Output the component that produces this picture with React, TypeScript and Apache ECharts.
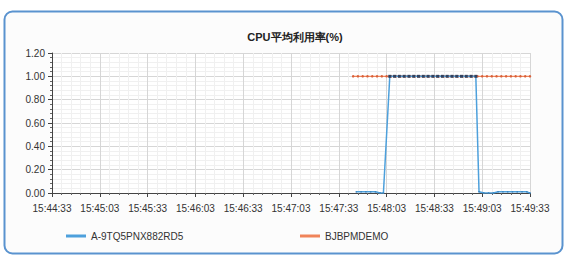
import React, { useEffect, useRef } from "react";
import * as echarts from "echarts";

const title = "CPU平均利用率(%)";
const startTime = "15:44:33";
const tickLabels = ["15:44:33", "15:45:03", "15:45:33", "15:46:03", "15:46:33", "15:47:03", "15:47:33", "15:48:03", "15:48:33", "15:49:03", "15:49:33"];
const yTicks = [0, 0.2, 0.4, 0.6, 0.8, 1.0, 1.2];

const seriesAName = "A-9TQ5PNX882RD5";
const seriesATimes = [
  "15:47:44", "15:47:47", "15:47:50", "15:47:53", "15:47:56", "15:47:59", "15:48:01",
  "15:48:05", "15:48:08", "15:48:11", "15:48:14", "15:48:17", "15:48:20", "15:48:23", "15:48:26", "15:48:29",
  "15:48:32", "15:48:35", "15:48:38", "15:48:41", "15:48:44", "15:48:47", "15:48:50", "15:48:53", "15:48:56", "15:48:59",
  "15:49:01", "15:49:04", "15:49:07", "15:49:10", "15:49:13", "15:49:16", "15:49:19", "15:49:22", "15:49:25", "15:49:28", "15:49:31", "15:49:33",
];
const seriesAValues = [
  0.01, 0.01, 0.01, 0.01, 0.01, 0.00, 0.00,
  1.00, 1.00, 1.00, 1.00, 1.00, 1.00, 1.00, 1.00, 1.00,
  1.00, 1.00, 1.00, 1.00, 1.00, 1.00, 1.00, 1.00, 1.00, 1.00,
  0.01, 0.00, 0.00, 0.00, 0.01, 0.01, 0.01, 0.01, 0.01, 0.01, 0.01, 0.00,
];

const seriesBName = "BJBPMDEMO";
const seriesBTimes = [
  "15:47:42", "15:47:45", "15:47:48", "15:47:51", "15:47:54", "15:47:57", "15:48:00", "15:48:03", "15:48:06", "15:48:09",
  "15:48:12", "15:48:15", "15:48:18", "15:48:21", "15:48:24", "15:48:27", "15:48:30", "15:48:33", "15:48:36", "15:48:39",
  "15:48:42", "15:48:45", "15:48:48", "15:48:51", "15:48:54", "15:48:57", "15:49:00", "15:49:03", "15:49:06", "15:49:09",
  "15:49:12", "15:49:15", "15:49:18", "15:49:21", "15:49:24", "15:49:27", "15:49:30", "15:49:33",
];
const seriesBValues = [
  1.00, 1.00, 1.00, 1.00, 1.00, 1.00, 1.00, 1.00, 1.00, 1.00,
  1.00, 1.00, 1.00, 1.00, 1.00, 1.00, 1.00, 1.00, 1.00, 1.00,
  1.00, 1.00, 1.00, 1.00, 1.00, 1.00, 1.00, 1.00, 1.00, 1.00,
  1.00, 1.00, 1.00, 1.00, 1.00, 1.00, 1.00, 1.00,
];

const BLUE = "#4da0dc";
const ORANGE = "#f0845a";

const toSec = (t: string) => {
  const [h, m, s] = t.split(":").map(Number);
  return h * 3600 + m * 60 + s;
};
const base = toSec(startTime);

export default function App() {
  const ref = useRef<HTMLDivElement>(null);
  useEffect(() => {
    if (!ref.current) return;
    const chart = echarts.init(ref.current, undefined, { renderer: "svg" });
    const font = "Liberation Sans, Arial, sans-serif";
    const dataA = seriesATimes.map((t, i) => ({
      value: [toSec(t) - base, seriesAValues[i]],
      symbolSize: seriesAValues[i] > 0.5 ? 3 : 1.5,
      itemStyle: { color: seriesAValues[i] > 0.5 ? "#34425e" : "#3d86c0" },
    }));
    const dataB = seriesBTimes.map((t, i) => [toSec(t) - base, seriesBValues[i]]);
    chart.setOption({
      animation: false,
      backgroundColor: "#ffffff",
      graphic: [
        {
          type: "rect",
          shape: { x: 4.5, y: 11.5, width: 558, height: 242, r: 8 },
          style: { fill: "#fcfcfc", stroke: "#5a93cf", lineWidth: 2 },
          z: -10,
          silent: true,
        },
      ],
      title: {
        text: title,
        left: 290,
        textAlign: "center",
        top: 26,
        textStyle: { fontSize: 11, fontWeight: "bold", color: "#222", fontFamily: font },
      },
      legend: [
        {
          data: [{ name: seriesAName, itemStyle: { color: BLUE } }],
          left: 61,
          top: 226,
          itemWidth: 20,
          itemHeight: 3,
          itemGap: 5,
          icon: "rect",
          textStyle: { fontSize: 10, color: "#333", fontFamily: font },
        },
        {
          data: [{ name: seriesBName, itemStyle: { color: ORANGE } }],
          left: 295,
          top: 226,
          itemWidth: 20,
          itemHeight: 3,
          icon: "rect",
          textStyle: { fontSize: 10, color: "#333", fontFamily: font },
        },
      ],
      grid: { left: 52, right: 36, top: 53, bottom: 63, containLabel: false, show: true, backgroundColor: "#ffffff", borderWidth: 0 },
      xAxis: {
        type: "value",
        min: 0,
        max: 300,
        interval: 30,
        axisLine: { show: true, lineStyle: { color: "#444" } },
        axisTick: { show: true, length: 4, lineStyle: { color: "#444" } },
        minorTick: { show: true, splitNumber: 5, length: 2, lineStyle: { color: "#666" } },
        splitLine: { show: true, lineStyle: { color: "#d6d6d6" } },
        minorSplitLine: { show: true, lineStyle: { color: "#f0f0f0" } },
        axisLabel: {
          fontSize: 10,
          color: "#333",
          fontFamily: font,
          margin: 10,
          formatter: (v: number) => tickLabels[Math.round(v / 30)] ?? "",
        },
      },
      yAxis: {
        type: "value",
        min: yTicks[0],
        max: yTicks[yTicks.length - 1],
        interval: 0.2,
        axisLine: { show: true, lineStyle: { color: "#444" } },
        axisTick: { show: true, length: 4, lineStyle: { color: "#444" } },
        minorTick: { show: true, splitNumber: 5, length: 2, lineStyle: { color: "#666" } },
        splitLine: { show: true, lineStyle: { color: "#d6d6d6" } },
        minorSplitLine: { show: true, lineStyle: { color: "#f0f0f0" } },
        axisLabel: {
          fontSize: 10,
          color: "#333",
          fontFamily: font,
          margin: 7,
          formatter: (v: number) => v.toFixed(2),
        },
      },
      series: [
        {
          name: seriesBName,
          type: "line",
          data: dataB,
          color: ORANGE,
          lineStyle: { width: 1.2, color: ORANGE },
          symbol: "circle",
          symbolSize: 2.5,
          itemStyle: { color: "#d8603a", borderWidth: 0 },
          z: 2,
        },
        {
          name: seriesAName,
          type: "line",
          data: dataA,
          color: BLUE,
          lineStyle: { width: 1.5, color: BLUE },
          symbol: "rect",
          itemStyle: { borderWidth: 0 },
          z: 3,
        },
      ],
    });
    return () => chart.dispose();
  }, []);
  return <div ref={ref} style={{ position: "fixed", left: 0, top: 0, width: 566, height: 256 }} />;
}
